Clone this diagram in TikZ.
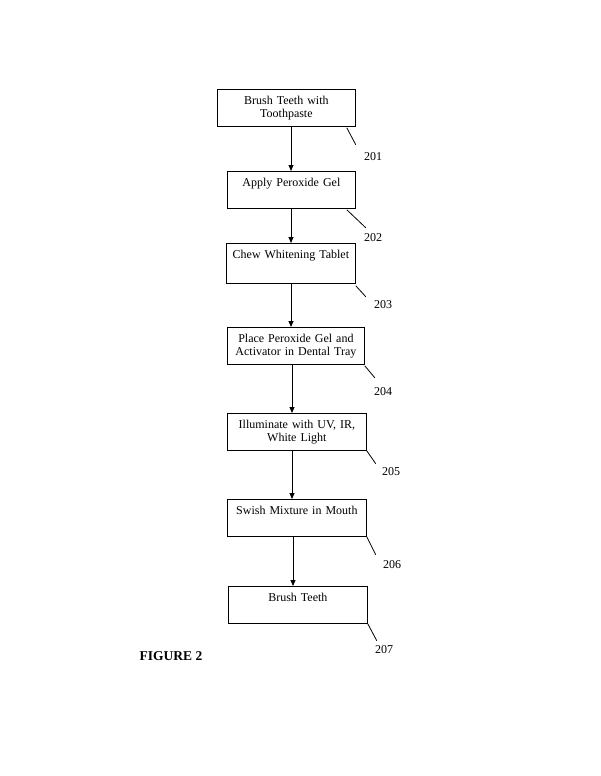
\documentclass[tikz,border=0pt]{standalone}
\usepackage{fontspec}
\setmainfont{Liberation Serif}
\usetikzlibrary{arrows.meta}
\begin{document}
\begin{tikzpicture}[x=1pt,y=-1pt,line width=0.8pt,
        stepbox/.style={draw,anchor=north west,text width=#1,align=center,
            inner xsep=3pt,inner ysep=3pt,text height=12.5pt,text depth=18.5pt,
            font=\fontsize{12}{13}\selectfont},
        stepbox/.default=133pt,
        arr/.style={-{Triangle[length=6pt,width=5pt]}},
        num/.style={inner sep=0pt,font=\fontsize{12}{13}\selectfont}]
    \useasboundingbox (0,0) rectangle (600,776);
    \node[stepbox=132pt] (b1) at (217,89) {Brush Teeth with\\Toothpaste};
    \node[stepbox=122pt] (b2) at (227,171) {Apply Peroxide Gel};
    \node[stepbox=123pt,text depth=21.5pt] (b3) at (226,243) {Chew Whitening Tablet};
    \node[stepbox=131pt] (b4) at (227,327) {Place Peroxide Gel and\\Activator in Dental Tray};
    \node[stepbox] (b5) at (227,413) {Illuminate with UV, IR,\\White Light};
    \node[stepbox] (b6) at (227,499) {Swish Mixture in Mouth};
    \node[stepbox] (b7) at (228,586) {Brush Teeth};
    \foreach \a/\b/\x in {b1/b2/291,b2/b3/291,b3/b4/291,b4/b5/292,b5/b6/292,b6/b7/293}
        \draw[arr] (\x,0 |- \a.south) -- (\x,0 |- \b.north);
    % reference numerals
    \foreach \n/\dx/\dy/\vx/\vy/\lx/\ly in {1/-9/1/9/17/373/157,2/-9/1/19/18/373/238,
            3/0/2/10/11/383/305,4/0/1/10/12/383/392,5/0/0/9/13/391/472,
            6/0/0/9/18/392/565,7/0/0/9/17/384/650}{
        \draw (b\n.south east) ++(\dx,\dy) --++(\vx,\vy) coordinate (e\n);
        \node[num] (l\n) at (\lx,\ly) {20\n};
    }
    \node[font=\bfseries\fontsize{13.5}{16}\selectfont] (fig) at (171,656) {FIGURE 2};
\end{tikzpicture}
\end{document}
